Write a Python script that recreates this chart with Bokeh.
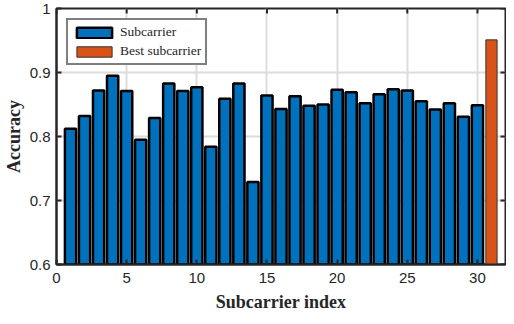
import math
from bokeh.plotting import figure
from bokeh.models import (FixedTicker, CustomJSTickFormatter,
                          Legend, LegendItem, ColumnDataSource)
from bokeh.embed import file_html
from bokeh.resources import INLINE

# ---- data ----
subcarrier_idx = [1, 2, 3, 4, 5, 6, 7, 8, 9, 10, 11, 12, 13, 14, 15,
                  16, 17, 18, 19, 20, 21, 22, 23, 24, 25, 26, 27, 28, 29, 30]
accuracy = [0.812, 0.832, 0.872, 0.895, 0.871, 0.795, 0.829, 0.883, 0.871, 0.877,
            0.784, 0.859, 0.883, 0.729, 0.864, 0.843, 0.863, 0.848, 0.850, 0.873,
            0.869, 0.852, 0.866, 0.874, 0.872, 0.855, 0.842, 0.852, 0.831, 0.849]
best_idx = [31]
best_acc = [0.951]
x_ticks = [0, 5, 10, 15, 20, 25, 30]
y_ticks = [0.6, 0.7, 0.8, 0.9, 1.0]
x_min, x_max = 0, 32
y_min, y_max = 0.6, 1.0
x_label = "Subcarrier index"
y_label = "Accuracy"
legend_labels = ["Subcarrier", "Best subcarrier"]

BLUE = "#0072BD"
ORANGE = "#D95319"
TICK_FONT = "Liberation Sans"
LABEL_FONT = "Liberation Serif"
DARK = "#262626"

p = figure(width=506, height=316, x_range=(x_min, x_max), y_range=(y_min, y_max),
           output_backend="svg", toolbar_location=None,
           min_border_left=49, min_border_right=1, min_border_top=8,
           min_border_bottom=52)
p.outline_line_color = DARK
p.outline_line_width = 2
p.background_fill_color = "white"
p.border_fill_color = "white"

src1 = ColumnDataSource(dict(x=subcarrier_idx, top=accuracy))
src2 = ColumnDataSource(dict(x=best_idx, top=best_acc))
r1 = p.vbar(x="x", top="top", bottom=0, width=0.8, source=src1,
            fill_color=BLUE, line_color="black", line_width=2.5)
r2 = p.vbar(x="x", top="top", bottom=0, width=0.8, source=src2,
            fill_color=ORANGE, line_color="#333333", line_width=1)

# inside tick marks on top and right edges (clipped to the frame)
p.scatter(x=x_ticks, y=[y_max] * len(x_ticks), marker="dash", size=10,
          angle=math.pi / 2, line_color=DARK, line_width=2)
p.scatter(x=[x_max] * len(y_ticks), y=y_ticks, marker="dash", size=10,
          line_color=DARK, line_width=2)

fmt = CustomJSTickFormatter(code="return (Math.round(tick*10)/10).toString();")

def style_axis(ax, ticks):
    ax.ticker = FixedTicker(ticks=ticks)
    ax.formatter = fmt
    ax.axis_line_color = DARK
    ax.axis_line_width = 2
    ax.major_tick_in = 5
    ax.major_tick_out = 0
    ax.major_tick_line_width = 2
    ax.major_tick_line_color = DARK
    ax.minor_tick_line_color = None
    ax.major_label_text_font = TICK_FONT
    ax.major_label_text_font_size = "15px"
    ax.major_label_text_color = DARK
    ax.axis_label_text_font = LABEL_FONT
    ax.axis_label_text_font_style = "bold"
    ax.axis_label_text_font_size = "18px"
    ax.axis_label_text_color = DARK

xa = p.xaxis[0]
style_axis(xa, x_ticks)
xa.major_label_standoff = 8
xa.axis_label = x_label
xa.axis_label_standoff = 6

ya = p.yaxis[0]
style_axis(ya, y_ticks)
ya.major_label_standoff = 6
ya.axis_label = y_label
ya.axis_label_standoff = 3

p.xgrid.ticker = FixedTicker(ticks=x_ticks)
p.ygrid.ticker = FixedTicker(ticks=y_ticks)
for g in (p.xgrid[0], p.ygrid[0]):
    g.grid_line_color = "#DCDCDC"
    g.grid_line_width = 2

legend = Legend(items=[LegendItem(label=legend_labels[0], renderers=[r1]),
                       LegendItem(label=legend_labels[1], renderers=[r2])],
                location="top_left")
legend.margin = 10
legend.padding = 4
legend.spacing = 3
legend.glyph_width = 44
legend.glyph_height = 13
legend.label_standoff = 4
legend.label_text_font = LABEL_FONT
legend.label_text_font_size = "13.5px"
legend.label_text_color = DARK
legend.label_height = 13
legend.border_line_color = "black"
legend.border_line_width = 2
legend.background_fill_color = "white"
legend.background_fill_alpha = 1
p.add_layout(legend, "center")

open("out.html", "w").write(file_html(p, INLINE))
